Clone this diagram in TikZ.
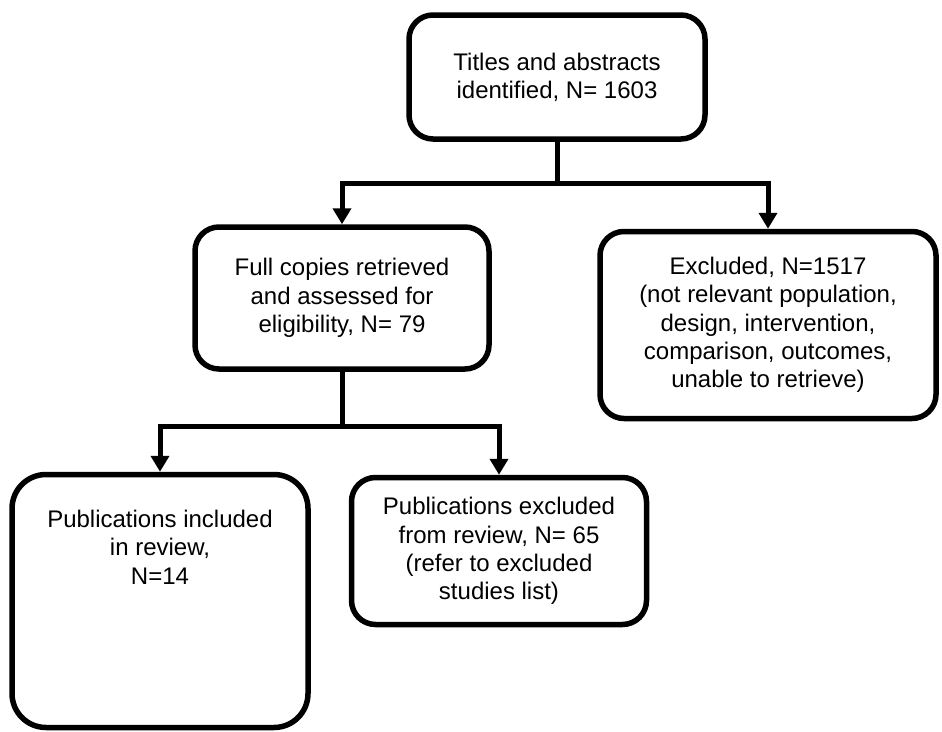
\documentclass[tikz,border=0pt]{standalone}
\usepackage{fontspec}
\setmainfont{Liberation Sans}
\usetikzlibrary{arrows.meta}

\begin{document}
\begin{tikzpicture}[x=1pt, y=-1pt,
        txt/.style={align=center, font=\fontsize{24}{28.3}\selectfont},
        box/.style={txt, draw, line width=5.5pt, rounded corners=24pt, minimum width=#1},
        conn/.style={line width=5pt},
        arr/.style={conn, -{Triangle[width=18pt, length=16pt]}}]
        \useasboundingbox (0,0) rectangle (942,731);
        \node[box=296, minimum height=124] (titles) at (557,77) {Titles and abstracts\\identified, N= 1603};
        \node[box=294, minimum height=142] (full) at (342,298) {Full copies retrieved\\and assessed for\\eligibility, N= 79};
        \node[box=336, minimum height=187] (excl) at (768,325) {Excluded, N=1517\\(not relevant population,\\design, intervention,\\comparison, outcomes,\\unable to retrieve)};
        \node[box=296, minimum height=253, rounded corners=34pt,
            label={[txt, anchor=north, yshift=-35pt]north:Publications included\\in review,\\N=14}] (incl) at (160,601) {};
        \node[box=295, minimum height=147] (xpub) at (499,551) {Publications excluded\\from review, N= 65\\(refer to excluded\\studies list)};
        \coordinate (j1) at (557,183);
        \coordinate (j2) at (342,426);
        \draw[conn] (titles) -- (j1);
        \draw[arr] (j1) -| (full);
        \draw[arr] (j1) -| (excl);
        \draw[conn] (full) -- (j2);
        \draw[arr] (j2) -| (incl);
        \draw[arr] (j2) -| (xpub);
\end{tikzpicture}
\end{document}
